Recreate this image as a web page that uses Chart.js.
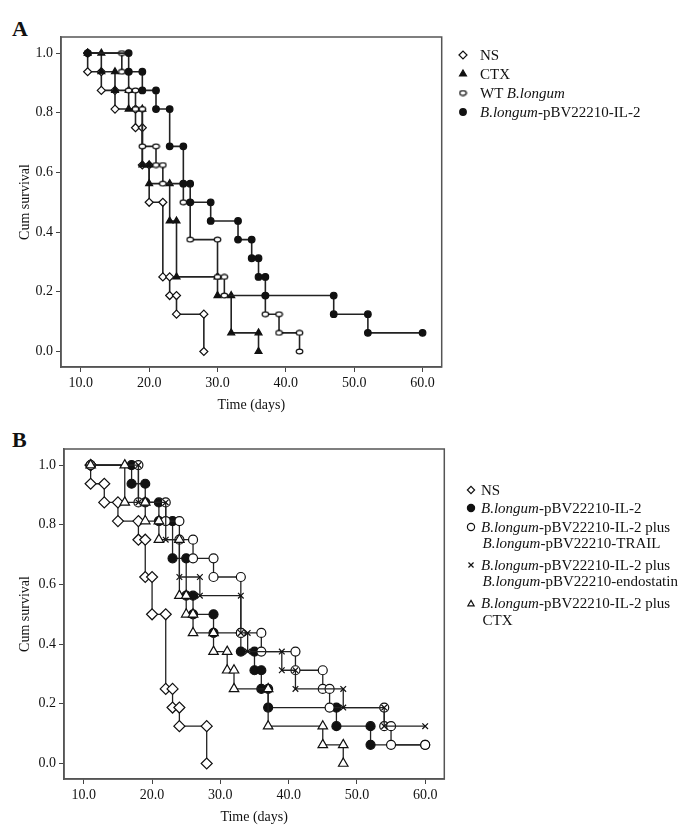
<!DOCTYPE html>
<html>
<head>
<meta charset="utf-8">
<script src="https://cdn.jsdelivr.net/npm/chart.js@4.4.1/dist/chart.umd.min.js"></script>
<style>
  body { margin: 0; background: #fff; width: 689px; height: 840px; position: relative; overflow: hidden;
         font-family: "Liberation Serif", "Times New Roman", serif; color: #111; }
  canvas.plot { position: absolute; left: 0; }
  .tag { position: absolute; font-weight: bold; font-size: 22px; }
  .item { position: absolute; white-space: nowrap; font-size: 15px; line-height: 17px; }
  .mk { position: absolute; }
</style>
</head>
<body>
<div class="tag" style="left:12px;top:16px">A</div>
<div class="tag" style="left:12px;top:427px">B</div>
<canvas id="chartA" class="plot" width="689" height="420" style="top:0"></canvas>
<canvas id="chartB" class="plot" width="689" height="420" style="top:412px"></canvas>
<div id="legendA"></div>
<div id="legendB"></div>
<script>
// all curves start at the earliest day, survival 1.0
const startDay = 11;
const xTicks = [10, 20, 30, 40, 50, 60];
const yTicks = [0, 0.2, 0.4, 0.6, 0.8, 1.0];

// event days and survival after each event (16 mice per group)
const nsDays = [11, 13, 15, 18, 19, 20, 22, 23, 24, 28];
const nsSurv = [0.9375, 0.875, 0.8125, 0.75, 0.625, 0.5, 0.25, 0.1875, 0.125, 0];

const ctxDays = [13, 15, 17, 19, 20, 23, 24, 30, 32, 36];
const ctxSurv = [0.9375, 0.875, 0.8125, 0.625, 0.5625, 0.4375, 0.25, 0.1875, 0.0625, 0];

const wtDays = [16, 17, 18, 19, 21, 22, 25, 26, 30, 31, 37, 39, 42];
const wtSurv = [0.9375, 0.875, 0.8125, 0.6875, 0.625, 0.5625, 0.5, 0.375, 0.25, 0.1875, 0.125, 0.0625, 0];

const il2Days = [17, 19, 21, 23, 25, 26, 29, 33, 35, 36, 37, 47, 52];
const il2Surv = [0.9375, 0.875, 0.8125, 0.6875, 0.5625, 0.5, 0.4375, 0.375, 0.3125, 0.25, 0.1875, 0.125, 0.0625];

const trailDays = [18, 22, 24, 26, 29, 33, 36, 41, 45, 46, 54, 55];
const trailSurv = [0.875, 0.8125, 0.75, 0.6875, 0.625, 0.4375, 0.375, 0.3125, 0.25, 0.1875, 0.125, 0.0625];

const endoDays = [18, 22, 24, 27, 33, 34, 39, 41, 48, 54];
const endoSurv = [0.875, 0.75, 0.625, 0.5625, 0.4375, 0.375, 0.3125, 0.25, 0.1875, 0.125];

const comboDays = [16, 19, 21, 24, 25, 26, 29, 31, 32, 37, 45, 48];
const comboSurv = [0.875, 0.8125, 0.75, 0.5625, 0.5, 0.4375, 0.375, 0.3125, 0.25, 0.125, 0.0625, 0];

const lastDay = 60; // censored survivors at end of follow-up

const labelsA = [['NS'], ['CTX'], ['WT <i>B.longum</i>'], ['<i>B.longum</i>-pBV22210-IL-2']];
const labelsB = [['NS'], ['<i>B.longum</i>-pBV22210-IL-2'],
  ['<i>B.longum</i>-pBV22210-IL-2 plus', '<i>B.longum</i>-pBV22210-TRAIL'],
  ['<i>B.longum</i>-pBV22210-IL-2 plus', '<i>B.longum</i>-pBV22210-endostatin'],
  ['<i>B.longum</i>-pBV22210-IL-2 plus', 'CTX']];

// step-function corners of a Kaplan-Meier curve
function kmSteps(days, surv) {
  const pts = [{x: startDay, y: 1}];
  let prev = 1;
  days.forEach((d, i) => {
    pts.push({x: d, y: prev}, {x: d, y: surv[i]});
    prev = surv[i];
  });
  if (prev > 0) pts.push({x: lastDay, y: prev});
  return pts;
}

// small hollow ellipse used for WT B.longum
const ellipse = document.createElement('canvas');
ellipse.width = 9; ellipse.height = 7;
(function () {
  const c = ellipse.getContext('2d');
  c.beginPath();
  c.ellipse(4.5, 3.5, 3.3, 2.3, 0, 0, Math.PI * 2);
  c.fillStyle = '#fff'; c.fill();
  c.lineWidth = 1.2; c.strokeStyle = '#111'; c.stroke();
})();

const ink = '#111';
const font = {family: '"Liberation Serif", "Times New Roman", serif', size: 14};

function series(pts, mark, lineW) {
  return {
    data: pts, showLine: true, fill: false, tension: 0,
    borderColor: '#222', borderWidth: lineW,
    pointStyle: mark.style, pointRadius: mark.r, pointHoverRadius: mark.r,
    pointBackgroundColor: mark.fill, pointBorderColor: ink, pointBorderWidth: 1.2
  };
}

const marksA = [
  {style: 'rectRot', r: 4, fill: '#fff'},
  {style: 'triangle', r: 4, fill: ink},
  {style: ellipse, r: 4, fill: '#fff'},
  {style: 'circle', r: 3.3, fill: ink}
];
const marksB = [
  {style: 'rectRot', r: 5.5, fill: '#fff'},
  {style: 'circle', r: 4.5, fill: ink},
  {style: 'circle', r: 4.5, fill: '#fff'},
  {style: 'crossRot', r: 4, fill: '#fff'},
  {style: 'triangle', r: 5.5, fill: '#fff'}
];

const frame = {
  id: 'frame',
  afterDraw(chart) {
    const {ctx, chartArea: a} = chart;
    ctx.save();
    ctx.strokeStyle = '#555';
    ctx.lineWidth = 1.5;
    ctx.strokeRect(a.left, a.top, a.right - a.left, a.bottom - a.top);
    ctx.restore();
  }
};

function makePanel(canvas, sets, areaLeft, areaRight, yTitlePad) {
  sets.forEach((s, i) => { s.order = sets.length - i; });
  return new Chart(canvas, {
    type: 'scatter',
    data: {datasets: sets},
    options: {
      responsive: false, animation: false, devicePixelRatio: 1,
      layout: {padding: {left: areaLeft - 61, right: 689 - areaRight, top: 37, bottom: 0}},
      plugins: {legend: {display: false}, tooltip: {enabled: false}},
      scales: {
        x: {
          type: 'linear', min: 7.1, max: 62.8,
          afterBuildTicks: s => { s.ticks = xTicks.map(v => ({value: v})); },
          afterFit: s => { s.height = 53; },
          grid: {drawOnChartArea: false, tickLength: 5, color: '#444'},
          border: {color: '#555', width: 1.5},
          ticks: {font, color: ink, padding: 3, maxRotation: 0, callback: v => v.toFixed(1)},
          title: {display: true, text: 'Time (days)', font, color: ink, padding: {top: 0, bottom: 6.6}}
        },
        y: {
          type: 'linear', min: -0.052, max: 1.054,
          afterBuildTicks: s => { s.ticks = yTicks.map(v => ({value: v})); },
          afterFit: s => { s.width = 61; },
          grid: {drawOnChartArea: false, tickLength: 5, color: '#444'},
          border: {color: '#555', width: 1.5},
          ticks: {font, color: ink, padding: 3, callback: v => v.toFixed(1)},
          title: {display: true, text: 'Cum survival', font, color: ink, padding: {top: yTitlePad, bottom: 0}}
        }
      }
    },
    plugins: [frame]
  });
}

makePanel(document.getElementById('chartA'), [
  series(kmSteps(nsDays, nsSurv), marksA[0], 1.6),
  series(kmSteps(ctxDays, ctxSurv), marksA[1], 1.6),
  series(kmSteps(wtDays, wtSurv), marksA[2], 1.6),
  series(kmSteps(il2Days, il2Surv), marksA[3], 1.6)
], 61, 441.7, 16.6);

makePanel(document.getElementById('chartB'), [
  series(kmSteps(nsDays, nsSurv), marksB[0], 1.3),
  series(kmSteps(il2Days, il2Surv), marksB[1], 1.3),
  series(kmSteps(trailDays, trailSurv), marksB[2], 1.3),
  series(kmSteps(endoDays, endoSurv), marksB[3], 1.3),
  series(kmSteps(comboDays, comboSurv), marksB[4], 1.3)
], 64, 444.3, 13.6);

// legends: marker drawn with Chart.js point helper, text as html
function buildLegend(holder, labels, marks, rows, markX, textX, markR) {
  labels.forEach((lines, i) => {
    const cv = document.createElement('canvas');
    cv.width = 16; cv.height = 16; cv.className = 'mk';
    cv.style.left = (markX - 8) + 'px'; cv.style.top = (rows[i] - 8) + 'px';
    const c = cv.getContext('2d');
    c.fillStyle = marks[i].fill; c.strokeStyle = ink; c.lineWidth = 1.2;
    Chart.helpers.drawPoint(c, {pointStyle: marks[i].style, radius: Math.min(marks[i].r, markR), borderWidth: 1.2}, 8, 8);
    holder.appendChild(cv);
    lines.forEach((txt, j) => {
      const d = document.createElement('div');
      d.className = 'item';
      d.innerHTML = txt;
      d.style.left = (textX + (j ? 1.5 : 0)) + 'px';
      d.style.top = (rows[i] - 8.5 + j * 16.6) + 'px';
      holder.appendChild(d);
    });
  });
}

buildLegend(document.getElementById('legendA'), labelsA, marksA, [55, 74, 93, 112], 463, 480, 4);
buildLegend(document.getElementById('legendB'), labelsB, marksB, [490, 508, 527, 565, 603.5], 471, 481, 3.6);
</script>
</body>
</html>
